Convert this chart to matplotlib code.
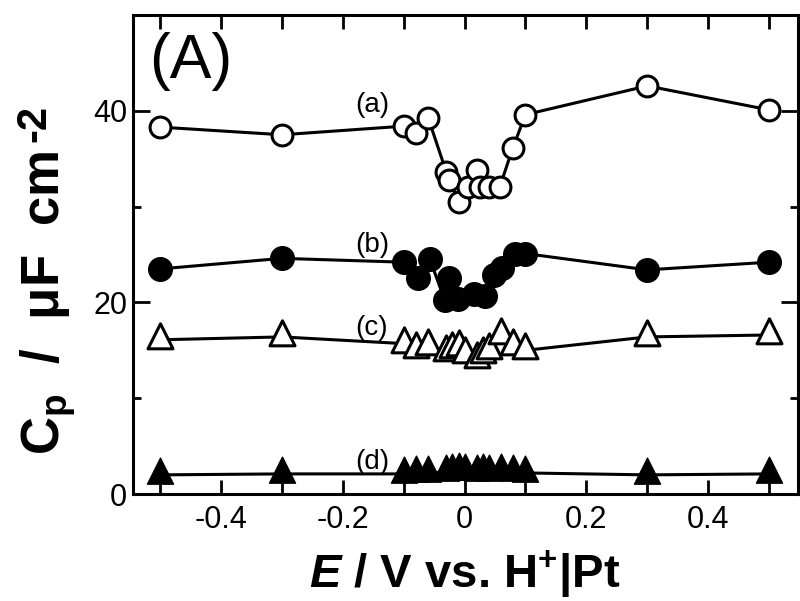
import numpy as np
import matplotlib
matplotlib.use("Agg")
import matplotlib.pyplot as plt
from matplotlib.path import Path
from matplotlib.ticker import MultipleLocator

plt.rcParams['font.family'] = ['Liberation Sans', 'DejaVu Sans']
plt.rcParams['mathtext.fontset'] = 'custom'
plt.rcParams['mathtext.rm'] = 'Liberation Sans:bold'
plt.rcParams['mathtext.it'] = 'Liberation Sans:italic:bold'
plt.rcParams['mathtext.bf'] = 'Liberation Sans:bold'

# Series (a): open circles
xa = [-0.5, -0.3, -0.1, -0.08, -0.06, -0.03, -0.025, -0.01, 0.005, 0.02, 0.025, 0.04, 0.058, 0.079, 0.1, 0.3, 0.5]
ya = [38.3, 37.5, 38.4, 37.7, 39.3, 33.6, 32.8, 30.5, 32.0, 33.8, 32.0, 32.0, 32.1, 36.1, 39.6, 42.6, 40.1]

# Series (b): filled circles
xb = [-0.5, -0.3, -0.1, -0.077, -0.057, -0.033, -0.025, -0.011, 0.016, 0.033, 0.049, 0.062, 0.082, 0.1, 0.3, 0.5]
yb = [23.5, 24.6, 24.2, 22.6, 24.5, 20.3, 22.6, 20.4, 20.9, 20.7, 22.9, 23.6, 25.1, 25.1, 23.4, 24.2]

# Series (c): open triangles
xc = [-0.5, -0.3, -0.1, -0.08, -0.06, -0.03, -0.02, -0.01, 0.0, 0.02, 0.03, 0.04, 0.06, 0.08, 0.1, 0.3, 0.5]
yc = [16.1, 16.4, 15.7, 15.1, 15.4, 14.8, 15.1, 15.3, 14.6, 14.1, 14.6, 15.0, 16.6, 15.4, 15.0, 16.4, 16.6]

# Series (d): filled triangles
xd = [-0.5, -0.3, -0.1, -0.08, -0.06, -0.03, -0.02, -0.01, 0.0, 0.02, 0.03, 0.04, 0.06, 0.08, 0.1, 0.3, 0.5]
yd = [2.0, 2.1, 2.1, 2.2, 2.2, 2.3, 2.4, 2.5, 2.4, 2.3, 2.4, 2.3, 2.4, 2.3, 2.2, 2.0, 2.1]

labels = ['(a)', '(b)', '(c)', '(d)']
label_pos = [(-0.152, 40.6), (-0.152, 26.0), (-0.152, 17.3), (-0.152, 3.3)]

tri = Path([(0, 4/3), (-1, -2/3), (1, -2/3), (0, 4/3)],
           [Path.MOVETO, Path.LINETO, Path.LINETO, Path.CLOSEPOLY])

fig = plt.figure(figsize=(8, 6.01), dpi=100)
ax = fig.add_axes([0.166, 0.178, 0.831, 0.797])

lw = 2.2
ax.plot(xa, ya, '-', color='black', lw=lw, marker='o', ms=15, mfc='white', mec='black', mew=2.2)
ax.plot(xb, yb, '-', color='black', lw=lw, marker='o', ms=17, mfc='black', mec='black', mew=1)
ax.plot(xc, yc, '-', color='black', lw=lw, marker=tri, ms=24, mfc='white', mec='black', mew=2.2)
ax.plot(xd, yd, '-', color='black', lw=lw, marker=tri, ms=25, mfc='black', mec='black', mew=1)

for t, (x, y) in zip(labels, label_pos):
    ax.text(x, y, t, fontsize=20, ha='center', va='center')

ax.text(0.025, 0.965, '(A)', transform=ax.transAxes, fontsize=45, ha='left', va='top')

ax.set_xlim(-0.545, 0.547)
ax.set_ylim(0, 50)
ax.xaxis.set_minor_locator(MultipleLocator(0.1))
ax.yaxis.set_minor_locator(MultipleLocator(10))
ax.set_xticks([-0.4, -0.2, 0, 0.2, 0.4])
ax.set_xticklabels(['-0.4', '-0.2', '0', '0.2', '0.4'])
ax.set_yticks([0, 20, 40])
ax.set_yticklabels(['0', '20', '40'])

ax.tick_params(which='both', direction='in', top=True, right=True, labelsize=22, width=2)
ax.tick_params(axis='y', which='major', length=12, pad=4)
ax.tick_params(axis='y', which='minor', length=6)
ax.tick_params(axis='x', which='both', length=10, pad=8)
for s in ax.spines.values():
    s.set_linewidth(2.2)

ax.set_xlabel(r'$\mathit{E}$ / V vs. H$^{+}$|Pt', fontsize=34, fontweight='bold', labelpad=9)

# y label built from two pieces so the superscript keeps a large size
W, H = fig.get_size_inches() * fig.dpi
t1 = fig.text(60 / W, 1 - 455 / H, r'C$_\mathrm{p}$  /  μF  cm', rotation=90,
              rotation_mode='anchor', ha='left', va='baseline', fontsize=38, fontweight='bold')
fig.canvas.draw()
bb = t1.get_window_extent()
fig.text(45 / W, (bb.y1 + 8) / H, '-2', rotation=90,
         rotation_mode='anchor', ha='left', va='baseline', fontsize=30, fontweight='bold')

fig.savefig('out.png', dpi=100)
